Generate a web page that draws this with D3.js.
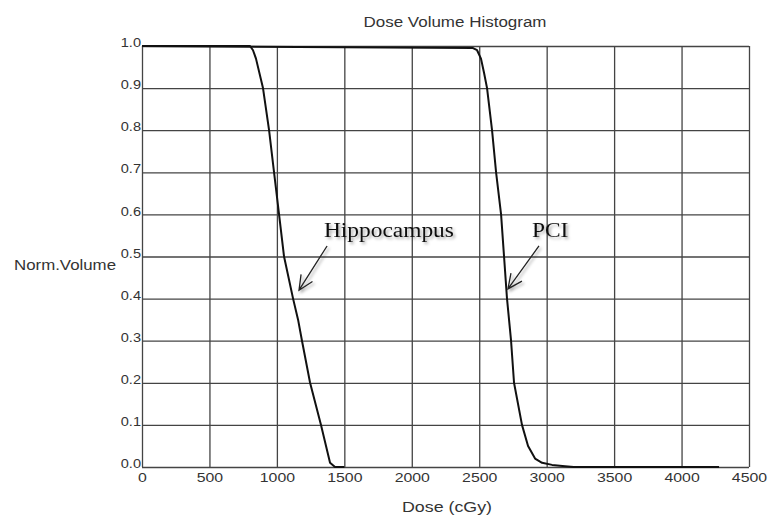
<!DOCTYPE html>
<html>
<head>
<meta charset="utf-8">
<script src="https://cdn.jsdelivr.net/npm/d3@7"></script>
<style>
  body { margin: 0; background: #fff; }
  svg { display: block; }
</style>
</head>
<body>
<div id="chart-container"></div>
<script>
// DVH curves (dose in cGy, normalised volume)
const hippoDose = [0, 801, 823, 845, 897, 942, 979, 1016, 1053, 1120, 1157, 1186, 1246, 1327, 1394, 1431, 1500];
const hippoVol  = [1, 1, 0.99, 0.97, 0.9, 0.8, 0.7, 0.6, 0.5, 0.4, 0.35, 0.3, 0.2, 0.1, 0.01, 0, 0];
const pciDose = [0, 2454, 2484, 2513, 2536, 2558, 2595, 2625, 2662, 2684, 2706, 2736, 2758, 2817, 2862, 2914, 2966, 3040, 3136, 3200, 4278];
const pciVol  = [1, 0.995, 0.99, 0.97, 0.936, 0.9, 0.8, 0.7, 0.6, 0.5, 0.4, 0.3, 0.2, 0.1, 0.05, 0.02, 0.01, 0.005, 0.002, 0, 0];

const doseTicks = [0, 500, 1000, 1500, 2000, 2500, 3000, 3500, 4000, 4500];
const volTicks = [0, 0.1, 0.2, 0.3, 0.4, 0.5, 0.6, 0.7, 0.8, 0.9, 1.0];

// annotation labels: [text, label dose, label vol, arrow start dose, vol, arrow tip dose, vol]
const notes = [
  ["Hippocampus", 1349, 0.546, 1372, 0.525, 1164, 0.420],
  ["PCI", 2891, 0.546, 2943, 0.525, 2713, 0.423]
];

const W = 768, H = 517;
const margin = { top: 46, right: 19, bottom: 50, left: 142 };
const width = W - margin.left - margin.right;
const height = H - margin.top - margin.bottom;

const svg = d3.select("#chart-container")
  .append("svg")
    .attr("width", W)
    .attr("height", H);

const defs = svg.append("defs");
const f = defs.append("filter").attr("id", "shadow")
  .attr("x", "-20%").attr("y", "-40%").attr("width", "150%").attr("height", "200%");
f.append("feDropShadow")
  .attr("dx", 2).attr("dy", 2).attr("stdDeviation", 1.6)
  .attr("flood-color", "#000").attr("flood-opacity", 0.35);

const g = svg.append("g")
  .attr("transform", "translate(" + margin.left + "," + margin.top + ")");

const x = d3.scaleLinear().domain([0, 4500]).range([0, width]);
const y = d3.scaleLinear().domain([0, 1]).range([height, 0]);

// stretch text horizontally like the source picture
function stretch(sel, k) {
  sel.each(function() {
    const w = this.getComputedTextLength();
    d3.select(this).attr("textLength", w * k).attr("lengthAdjust", "spacingAndGlyphs");
  });
}

// grid + x axis
const xAxis = g.append("g")
  .attr("transform", "translate(0," + height + ")")
  .call(d3.axisBottom(x).tickValues(doseTicks).tickSize(-height).tickSizeOuter(0).tickPadding(6).tickFormat(d3.format("d")));

// grid + y axis
const yAxis = g.append("g")
  .call(d3.axisLeft(y).tickValues(volTicks).tickSize(-width).tickSizeOuter(0).tickPadding(1).tickFormat(d3.format(".1f")));

[xAxis, yAxis].forEach(a => {
  a.select(".domain").remove();
  a.selectAll("line").attr("stroke", "#444").attr("stroke-width", 1.3);
  a.selectAll("text")
    .attr("fill", "#333")
    .style("font-family", "'Liberation Sans', Arial, sans-serif")
    .style("font-size", "13px");
});
yAxis.selectAll("text").attr("dy", "0.05em");
stretch(xAxis.selectAll("text"), 1.22);
stretch(yAxis.selectAll("text"), 1.12);

// curves
const line = d3.line().x(d => x(d[0])).y(d => y(d[1]));
[[hippoDose, hippoVol], [pciDose, pciVol]].forEach(([ds, vs]) => {
  g.append("path")
    .datum(ds.map((d, i) => [d, vs[i]]))
    .attr("fill", "none")
    .attr("stroke", "#111")
    .attr("stroke-width", 2)
    .attr("stroke-linejoin", "round")
    .attr("d", line);
});

// titles
svg.append("text")
  .attr("x", 455).attr("y", 27)
  .attr("text-anchor", "middle")
  .attr("fill", "#333")
  .style("font-family", "'Liberation Sans', Arial, sans-serif")
  .style("font-size", "14px")
  .attr("textLength", 183).attr("lengthAdjust", "spacingAndGlyphs")
  .text("Dose Volume Histogram");

svg.append("text")
  .attr("x", 447).attr("y", 512)
  .attr("text-anchor", "middle")
  .attr("fill", "#333")
  .style("font-family", "'Liberation Sans', Arial, sans-serif")
  .style("font-size", "14px")
  .attr("textLength", 90).attr("lengthAdjust", "spacingAndGlyphs")
  .text("Dose (cGy)");

svg.append("text")
  .attr("x", 116).attr("y", 270)
  .attr("text-anchor", "end")
  .attr("fill", "#333")
  .style("font-family", "'Liberation Sans', Arial, sans-serif")
  .style("font-size", "14px")
  .attr("textLength", 102).attr("lengthAdjust", "spacingAndGlyphs")
  .text("Norm.Volume");

// annotations with arrows
notes.forEach(n => {
  const ng = g.append("g").attr("filter", "url(#shadow)");
  const t = ng.append("text")
    .attr("x", x(n[1])).attr("y", y(n[2]))
    .attr("fill", "#111")
    .style("font-family", "'Liberation Serif', 'Times New Roman', serif")
    .style("font-size", "20px")
    .text(n[0]);
  stretch(t, 1.17);
  const x0 = x(n[3]), y0 = y(n[4]), x1 = x(n[5]), y1 = y(n[6]);
  const ang = Math.atan2(y0 - y1, x0 - x1);
  const L = 16, a = 25 * Math.PI / 180;
  const p = d3.path();
  p.moveTo(x0, y0); p.lineTo(x1, y1);
  p.moveTo(x1 + L * Math.cos(ang - a), y1 + L * Math.sin(ang - a));
  p.lineTo(x1, y1);
  p.lineTo(x1 + L * Math.cos(ang + a), y1 + L * Math.sin(ang + a));
  ng.append("path")
    .attr("d", p.toString())
    .attr("fill", "none")
    .attr("stroke", "#222")
    .attr("stroke-width", 1.3);
});
</script>
</body>
</html>
